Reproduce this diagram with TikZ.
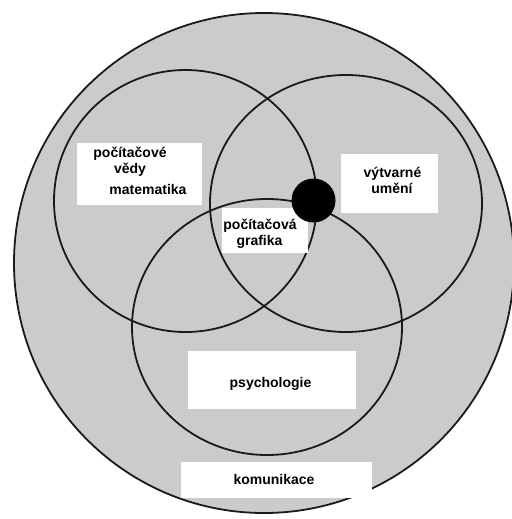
\documentclass[tikz,border=0pt]{standalone}
\usepackage{fontspec}
\setmainfont{Liberation Sans}
\definecolor{bggray}{HTML}{CBCBCB}
\definecolor{linegray}{HTML}{1A1A1A}
\begin{document}
\begin{tikzpicture}[x=1pt,y=-1pt,
  ring/.style={draw=linegray,line width=1.8pt},
  whitebox/.style={fill=white,draw=none,inner sep=0pt},
  lbl/.style={font=\fontsize{14}{16}\selectfont\bfseries,inner sep=0pt,anchor=base,text=black}]
\useasboundingbox (0,0) rectangle (511,519);
% outer circle
\filldraw[ring,fill=bggray] (264,263) circle[radius=250pt];
% three inner circles
\draw[ring] (185.5,201) ellipse[x radius=131.5pt,y radius=131pt];
\draw[ring] (346,203.5) ellipse[x radius=136pt,y radius=128.5pt];
\draw[ring] (267,327) ellipse[x radius=135pt,y radius=128pt];
% white boxes
\node[whitebox,minimum width=125pt,minimum height=62pt] (bcs) at (139.5,174) {};
\node[whitebox,minimum width=97pt,minimum height=59pt] (bart) at (389.5,183.5) {};
\node[whitebox,minimum width=86pt,minimum height=45pt] (bcg) at (265,230.5) {};
\node[whitebox,minimum width=168pt,minimum height=58pt] (bpsy) at (272,380) {};
\node[whitebox,minimum width=191pt,minimum height=36pt] (bkom) at (276.5,480) {};
% black dot
\fill[black] (313.5,200.5) circle[radius=22pt];
% texts
\node[lbl] (t1) at (130,157) {počítačové};
\node[lbl] (t2) at (130,173) {vědy};
\node[lbl] (t3) at (148,194) {matematika};
\node[lbl] (t4) at (392.5,177) {výtvarné};
\node[lbl] (t5) at (392,193) {umění};
\node[lbl] (t6) at (260,229) {počítačová};
\node[lbl] (t7) at (259.5,245) {grafika};
\node[lbl] (t8) at (270.5,387) {psychologie};
\node[lbl] (t9) at (274,484) {komunikace};
\end{tikzpicture}
\end{document}
